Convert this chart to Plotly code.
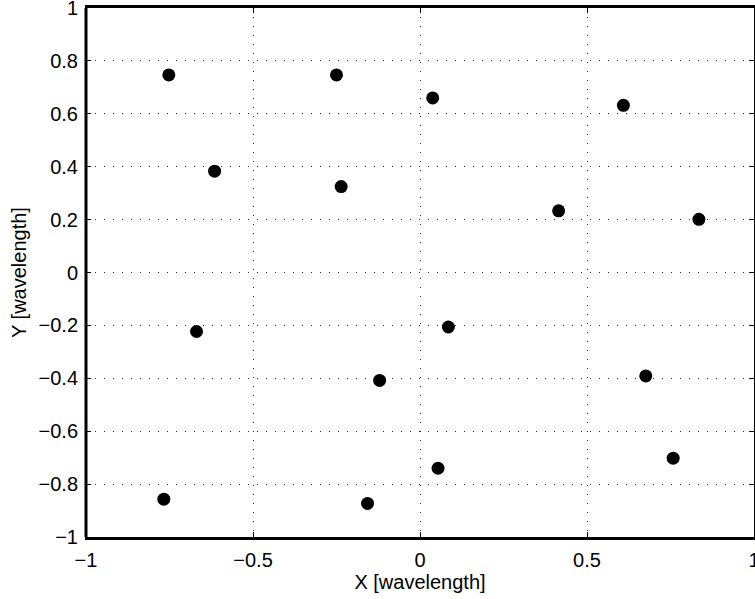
import plotly.graph_objects as go

# Data (positions in wavelengths)
x_vals = [-0.752, -0.250, 0.038, 0.609, -0.615, -0.236, 0.415, 0.835,
          -0.669, 0.085, -0.121, 0.676, -0.767, 0.054, -0.157, 0.758]
y_vals = [0.747, 0.747, 0.660, 0.632, 0.383, 0.325, 0.233, 0.201,
          -0.223, -0.206, -0.408, -0.391, -0.857, -0.740, -0.873, -0.702]

x_ticks = [-1, -0.5, 0, 0.5, 1]
y_ticks = [-1, -0.8, -0.6, -0.4, -0.2, 0, 0.2, 0.4, 0.6, 0.8, 1]
x_label = "X [wavelength]"
y_label = "Y [wavelength]"

FONT = "Liberation Sans, Arial, Helvetica, sans-serif"
FS = 20

fig = go.Figure()
fig.add_trace(go.Scatter(
    x=x_vals, y=y_vals, mode="markers",
    marker=dict(color="black", size=13, line=dict(width=0)),
    showlegend=False, hoverinfo="x+y",
))

axis_common = dict(
    showgrid=True, gridcolor="#333333", gridwidth=1, griddash="1px,8px",
    zeroline=False, showline=True, linecolor="black",
    ticks="inside", ticklen=5, tickwidth=1, tickcolor="black",
    mirror="allticks", automargin=False, ticklabeloverflow="allow",
    tickfont=dict(family=FONT, size=FS, color="black"),
)

fig.update_layout(
    width=755, height=599,
    margin=dict(l=86, r=1, t=8, b=62),
    paper_bgcolor="white", plot_bgcolor="white",
    font=dict(family=FONT, size=FS, color="black"),
    xaxis=dict(range=[-1, 1], tickvals=x_ticks, linewidth=3,
               ticklabelstandoff=3,
               title=dict(text=x_label, font=dict(family=FONT, size=FS), standoff=3),
               **axis_common),
    yaxis=dict(range=[-1, 1], tickvals=y_ticks, linewidth=1,
               ticklabelstandoff=3,
               title=dict(text=y_label, font=dict(family=FONT, size=FS), standoff=6),
               **axis_common),
    shapes=[dict(type="line", xref="paper", yref="paper", x0=0, x1=0, y0=0, y1=1,
                 line=dict(color="black", width=3))],
)

fig.write_html("out.html")
